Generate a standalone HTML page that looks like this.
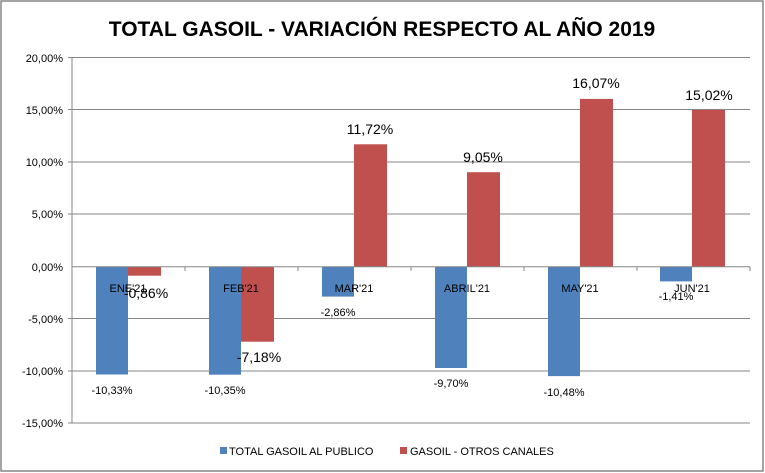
<!DOCTYPE html><html><head><style>body{margin:0;background:#fff}svg{display:block;font-family:"Liberation Sans",Arial,sans-serif}</style></head><body>
<svg width="765" height="473" viewBox="0 0 765 473">
<rect x="1" y="1" width="762" height="470" fill="#fff" stroke="#868686" stroke-width="1.5"/>
<text x="382" y="36" text-anchor="middle" font-size="21" font-weight="bold" fill="#000">TOTAL GASOIL - VARIACIÓN RESPECTO AL AÑO 2019</text>
<g stroke="#868686" stroke-width="1">
<line x1="68" y1="57.5" x2="750" y2="57.5"/><line x1="68" y1="109.5" x2="750" y2="109.5"/><line x1="68" y1="162" x2="750" y2="162"/><line x1="68" y1="214" x2="750" y2="214"/><line x1="68" y1="318.5" x2="750" y2="318.5"/><line x1="68" y1="371" x2="750" y2="371"/><line x1="68" y1="423" x2="750" y2="423"/>
<line x1="72" y1="57" x2="72" y2="423"/>
</g>
<g font-size="11" fill="#000" text-anchor="end">
<text x="63" y="62">20,00%</text><text x="63" y="114">15,00%</text><text x="63" y="166">10,00%</text><text x="63" y="218">5,00%</text><text x="63" y="271">0,00%</text><text x="63" y="323">-5,00%</text><text x="63" y="375">-10,00%</text><text x="63" y="427">-15,00%</text>
</g>
<g fill="#4f81bd">
<rect x="96" y="266.7" width="32" height="107.8"/>
<rect x="209" y="266.7" width="32" height="108"/>
<rect x="322" y="266.7" width="32" height="29.9"/>
<rect x="435" y="266.7" width="32" height="101.3"/>
<rect x="548" y="266.7" width="32" height="109.4"/>
<rect x="660" y="266.7" width="32" height="14.7"/>
</g>
<g fill="#c0504d">
<rect x="128" y="266.7" width="33" height="9"/>
<rect x="241" y="266.7" width="33" height="75"/>
<rect x="354" y="144.3" width="33" height="122.4"/>
<rect x="467" y="172.2" width="33" height="94.5"/>
<rect x="580" y="98.9" width="33" height="167.8"/>
<rect x="692" y="109.9" width="33" height="156.8"/>
</g>
<line x1="72" y1="266.7" x2="750" y2="266.7" stroke="#868686"/>
<g stroke="#868686"><line x1="185" y1="266.7" x2="185" y2="271"/><line x1="298" y1="266.7" x2="298" y2="271"/><line x1="411" y1="266.7" x2="411" y2="271"/><line x1="524" y1="266.7" x2="524" y2="271"/><line x1="637" y1="266.7" x2="637" y2="271"/><line x1="750" y1="266.7" x2="750" y2="271"/></g>
<g font-size="11" fill="#000" text-anchor="middle">
<text x="128" y="292">ENE'21</text><text x="241" y="292">FEB'21</text><text x="354" y="292">MAR'21</text><text x="467" y="292">ABRIL'21</text><text x="580" y="292">MAY'21</text><text x="692" y="292">JUN'21</text>
<text x="112" y="394">-10,33%</text><text x="225" y="394">-10,35%</text><text x="338" y="316">-2,86%</text><text x="451" y="387">-9,70%</text><text x="564" y="396">-10,48%</text><text x="676" y="300">-1,41%</text>
</g>
<g font-size="14" fill="#000" text-anchor="middle">
<text x="146" y="298">-0,86%</text><text x="259" y="362">-7,18%</text><text x="370" y="134">11,72%</text><text x="483" y="162">9,05%</text><text x="596" y="88">16,07%</text><text x="709" y="100">15,02%</text>
</g>
<rect x="220" y="447" width="7" height="7" fill="#4f81bd"/>
<text x="229" y="455" font-size="11" fill="#000">TOTAL GASOIL AL PUBLICO</text>
<rect x="400" y="447" width="7" height="7" fill="#c0504d"/>
<text x="410" y="455" font-size="11" fill="#000">GASOIL - OTROS CANALES</text>
</svg>
</body></html>
